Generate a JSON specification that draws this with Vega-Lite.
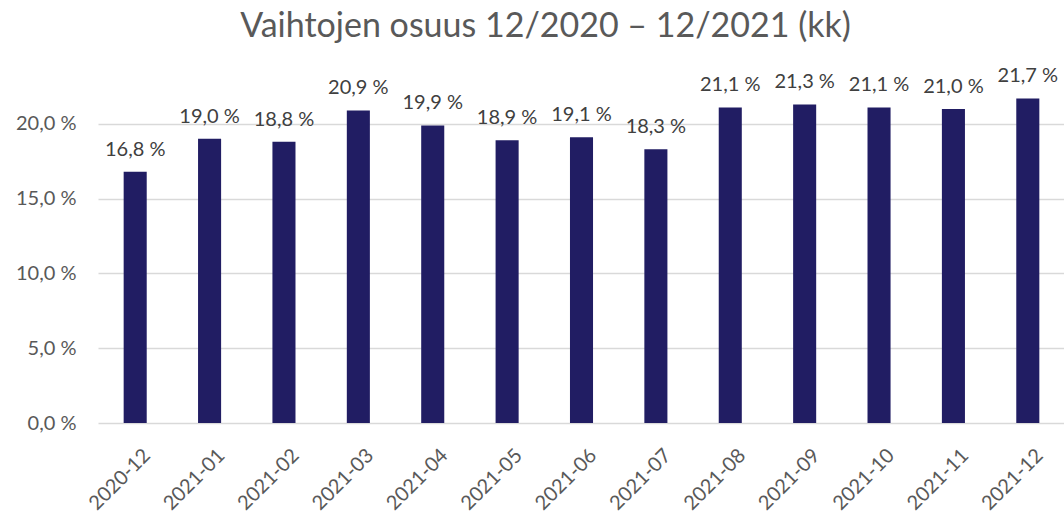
{
  "$schema": "https://vega.github.io/schema/vega-lite/v6.json",
  "width": 967,
  "height": 329,
  "autosize": {"type": "none"},
  "padding": {"left": 98, "top": 94, "right": 0, "bottom": 90},
  "background": "white",
  "title": {
    "text": "Vaihtojen osuus 12/2020 – 12/2021 (kk)",
    "fontSize": 34,
    "font": "Lato",
    "fontWeight": "normal",
    "color": "#595959",
    "anchor": "middle",
    "dx": -36,
    "offset": 22
  },
  "config": {
    "locale": {
      "number": {
        "decimal": ",",
        "thousands": " ",
        "grouping": [3],
        "currency": ["", " €"],
        "percent": " %"
      }
    },
    "view": {"stroke": null},
    "font": "Lato"
  },
  "data": {
    "values": [
      {"kk": "2020-12", "osuus": 0.168},
      {"kk": "2021-01", "osuus": 0.190},
      {"kk": "2021-02", "osuus": 0.188},
      {"kk": "2021-03", "osuus": 0.209},
      {"kk": "2021-04", "osuus": 0.199},
      {"kk": "2021-05", "osuus": 0.189},
      {"kk": "2021-06", "osuus": 0.191},
      {"kk": "2021-07", "osuus": 0.183},
      {"kk": "2021-08", "osuus": 0.211},
      {"kk": "2021-09", "osuus": 0.213},
      {"kk": "2021-10", "osuus": 0.211},
      {"kk": "2021-11", "osuus": 0.210},
      {"kk": "2021-12", "osuus": 0.217}
    ]
  },
  "encoding": {
    "x": {
      "field": "kk",
      "type": "ordinal",
      "sort": null,
      "scale": {"paddingInner": 0.69, "paddingOuter": 0.345},
      "axis": {
        "title": null,
        "labelAngle": -45,
        "labelFontSize": 20,
        "labelColor": "#595959",
        "labelPadding": 22,
        "labelOffset": 5,
        "ticks": false,
        "domain": false
      }
    },
    "y": {
      "field": "osuus",
      "type": "quantitative",
      "scale": {"domain": [0, 0.22], "nice": false},
      "axis": {
        "title": null,
        "values": [0, 0.05, 0.1, 0.15, 0.2],
        "format": ".1%",
        "labelFontSize": 20,
        "labelColor": "#595959",
        "labelPadding": 22,
        "ticks": false,
        "domain": false,
        "gridColor": "#d9d9d9",
        "gridWidth": 1.5
      }
    }
  },
  "layer": [
    {"mark": {"type": "bar", "color": "#211d63"}},
    {
      "mark": {"type": "text", "baseline": "alphabetic", "dy": -16, "fontSize": 20, "color": "#404040"},
      "encoding": {"text": {"field": "osuus", "type": "quantitative", "format": ".1%"}}
    }
  ]
}
